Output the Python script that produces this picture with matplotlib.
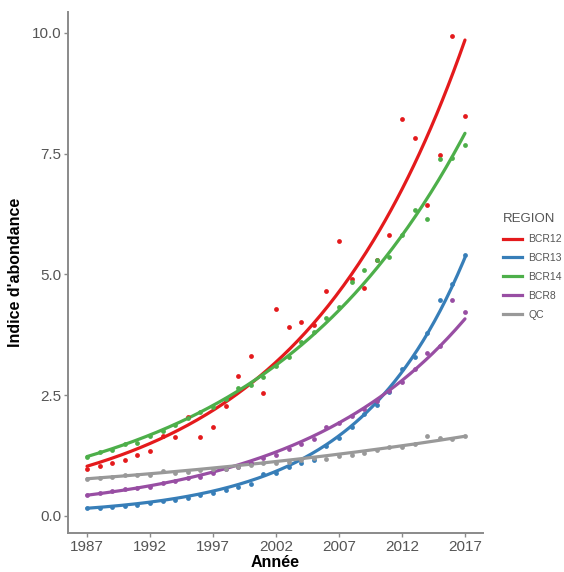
import numpy as np
import matplotlib
matplotlib.use("Agg")
import matplotlib.pyplot as plt
from matplotlib.lines import Line2D

plt.rcParams['font.family'] = ['Liberation Sans', 'DejaVu Sans']

years = list(range(1987, 2018))
regions = ["BCR12", "BCR13", "BCR14", "BCR8", "QC"]

bcr12 = [0.97, 1.04, 1.10, 1.16, 1.26, 1.35, 1.66, 1.63, 2.04, 1.64, 1.84, 2.28, 2.90, 3.32, 2.55,
         4.28, 3.91, 4.02, 3.95, 4.66, 5.70, 4.90, 4.71, 5.30, 5.82, 8.22, 7.82, 6.44, 7.47, 9.94, 8.28]
bcr13 = [0.16, 0.17, 0.19, 0.20, 0.23, 0.27, 0.32, 0.34, 0.38, 0.43, 0.47, 0.53, 0.61, 0.66, 0.87,
         0.90, 1.02, 1.10, 1.16, 1.45, 1.62, 1.85, 2.12, 2.30, 2.57, 3.04, 3.30, 3.78, 4.47, 4.80, 5.40]
bcr14 = [1.23, 1.33, 1.37, 1.48, 1.52, 1.66, 1.75, 1.88, 2.02, 2.16, 2.25, 2.42, 2.64, 2.72, 2.88,
         3.10, 3.30, 3.60, 3.80, 4.09, 4.33, 4.85, 5.09, 5.29, 5.36, 5.82, 6.34, 6.14, 7.38, 7.40, 7.68]
bcr8 = [0.43, 0.47, 0.52, 0.55, 0.57, 0.61, 0.69, 0.72, 0.78, 0.81, 0.88, 0.97, 1.02, 1.10, 1.19,
        1.26, 1.39, 1.50, 1.60, 1.85, 1.92, 2.06, 2.22, 2.38, 2.59, 2.78, 3.05, 3.38, 3.52, 4.47, 4.23]
qc = [0.77, 0.79, 0.80, 0.84, 0.85, 0.85, 0.94, 0.90, 0.92, 0.96, 0.97, 0.98, 1.02, 1.05, 1.09,
      1.10, 1.12, 1.15, 1.19, 1.18, 1.24, 1.27, 1.30, 1.36, 1.42, 1.43, 1.50, 1.66, 1.61, 1.60, 1.66]

# fitted exponential trend, values read at 1987 and 2017
trend_1987 = [1.03, 0.16, 1.23, 0.43, 0.77]
trend_2017 = [9.85, 5.35, 7.92, 4.08, 1.65]

series = [bcr12, bcr13, bcr14, bcr8, qc]
colors = ["#E41A1C", "#377EB8", "#4DAF4A", "#984EA3", "#999999"]

x_ticks = [1987, 1992, 1997, 2002, 2007, 2012, 2017]
y_ticks = [0.0, 2.5, 5.0, 7.5, 10.0]

fig = plt.figure(figsize=(5.64, 5.72), dpi=100)
ax = fig.add_axes([68/564, 1-533/572, (483-68)/564, (533-12)/572])

x = np.array(years, dtype=float)
xs = np.linspace(x.min(), x.max(), 200)
frac = (xs - x.min()) / (x.max() - x.min())
for vals, col, t0, t1 in zip(series, colors, trend_1987, trend_2017):
    ax.plot(xs, t0 * (t1 / t0) ** frac, color=col, lw=2.3, solid_capstyle='round', zorder=3)
    ax.scatter(x, vals, s=12, color=col, zorder=4, linewidths=0)

ax.set_xlim(1985.49, 2018.43)
ax.set_ylim(-0.352, 10.43)
ax.set_xticks(x_ticks)
ax.set_xticklabels([str(t) for t in x_ticks])
ax.set_yticks(y_ticks)
ax.set_yticklabels(["%.1f" % t for t in y_ticks])

for s in ["top", "right"]:
    ax.spines[s].set_visible(False)
for s in ["left", "bottom"]:
    ax.spines[s].set_color("#8a8a8a")
    ax.spines[s].set_linewidth(1.4)
ax.tick_params(axis="both", colors="#8a8a8a", length=3, width=1.0, labelsize=11,
               labelcolor="#555555", pad=2)

ax.set_xlabel("Année", fontsize=11.5, fontweight="bold", labelpad=1)
ax.set_ylabel("Indice d'abondance", fontsize=11.5, fontweight="bold", labelpad=6)

handles = [Line2D([0], [0], color=c, lw=2.3) for c in colors]
leg = fig.legend(handles, regions, title="REGION", loc="upper left",
                 bbox_to_anchor=(496/564, 1-206/572), frameon=False,
                 fontsize=7.5, title_fontsize=9.5, handlelength=1.8,
                 labelspacing=0.85, handletextpad=0.6, borderpad=0.2)
leg._legend_box.align = "left"
for t in leg.get_texts():
    t.set_color("#555555")
leg.get_title().set_color("#555555")

fig.savefig("out.png", dpi=100)
